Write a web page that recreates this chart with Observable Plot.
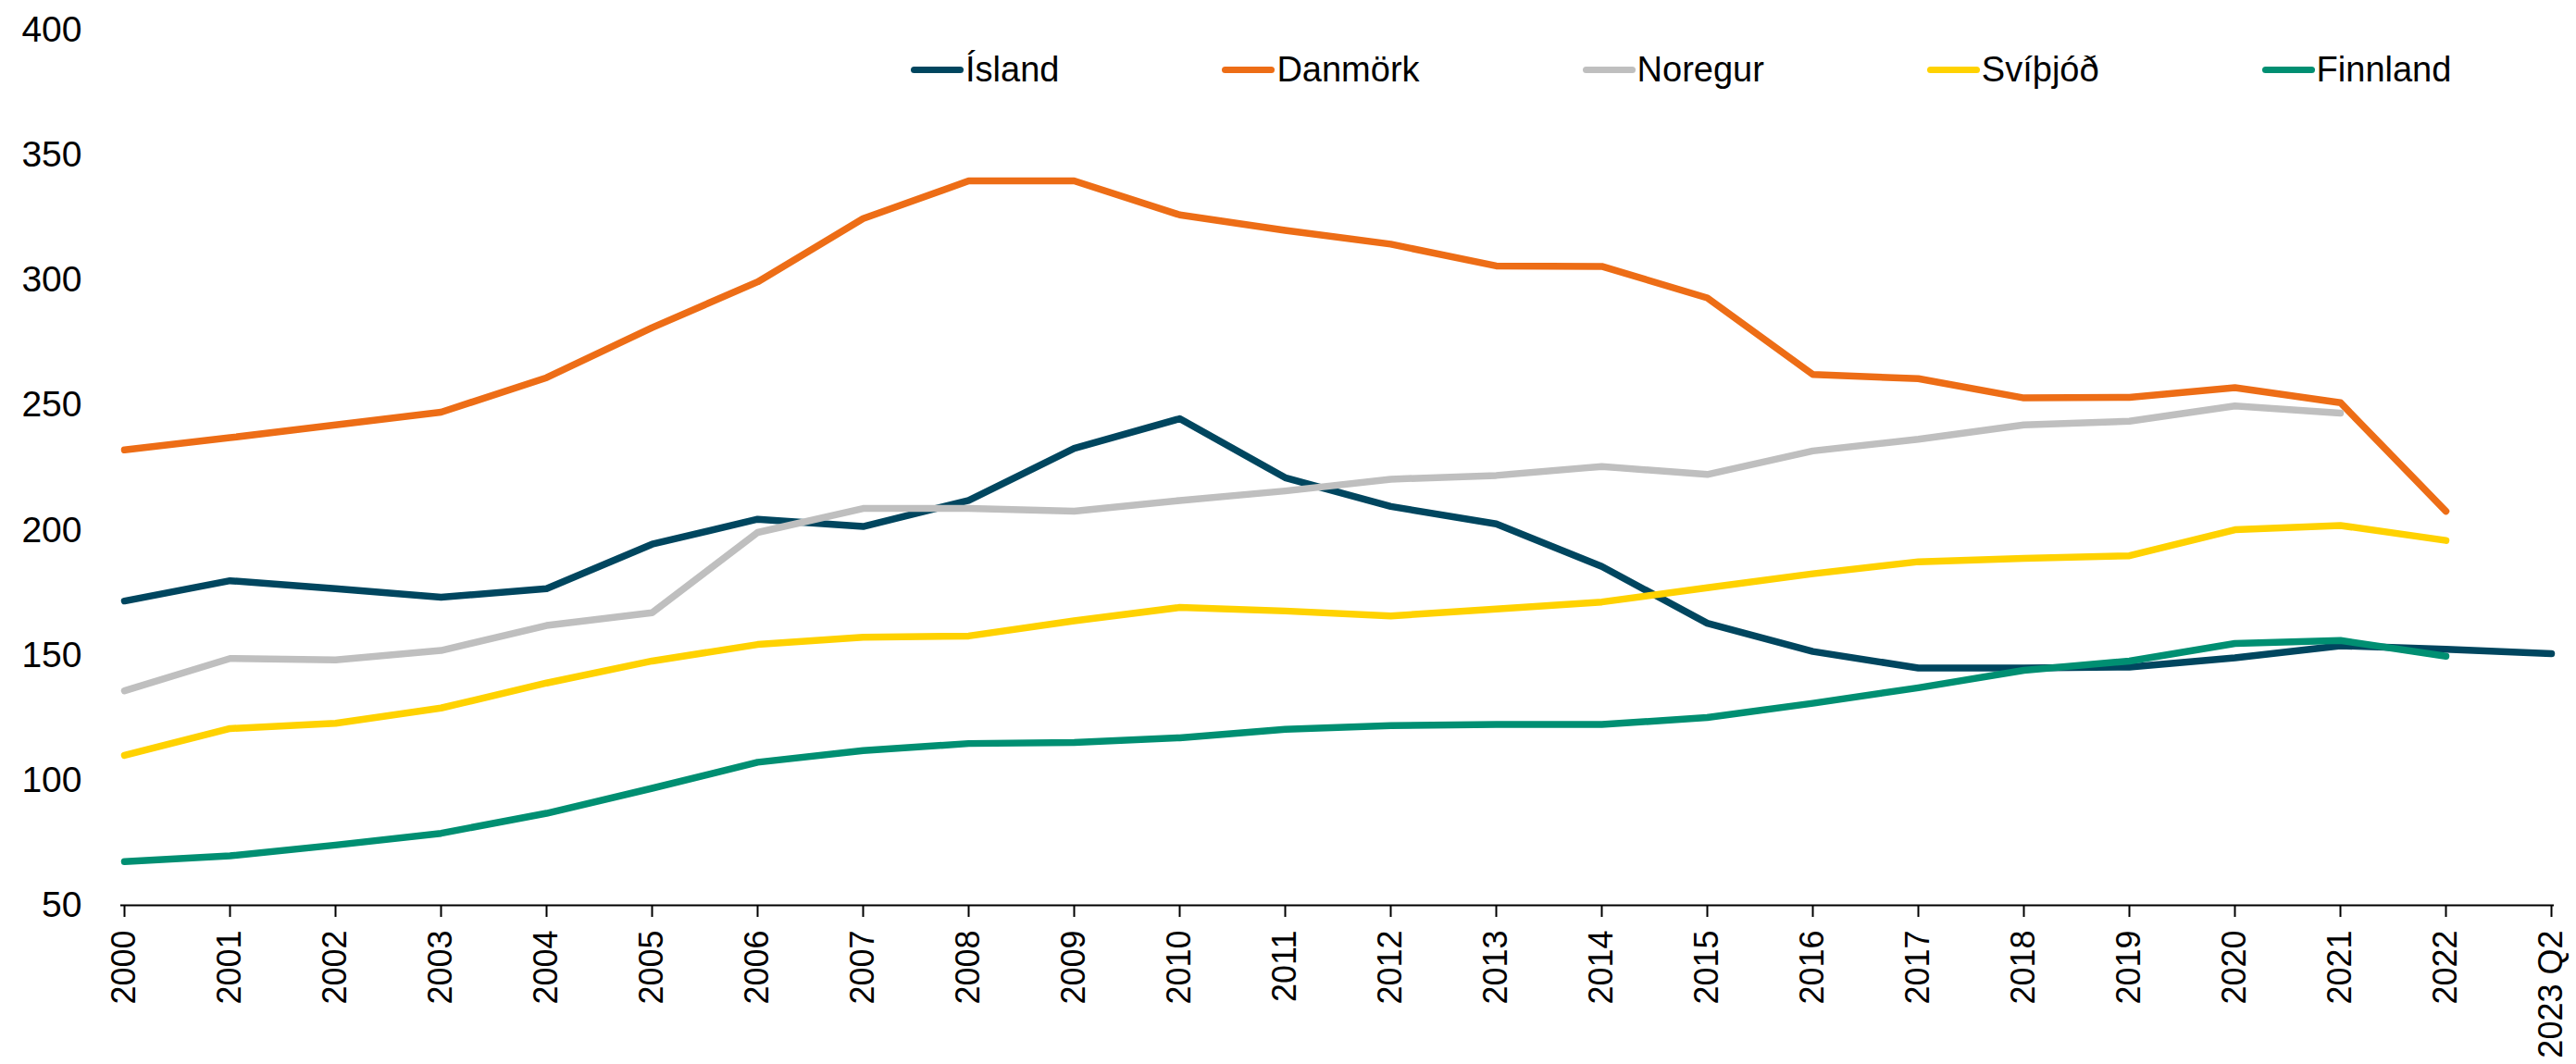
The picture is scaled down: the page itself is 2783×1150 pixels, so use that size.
<!DOCTYPE html>
<html>
<head>
<meta charset="utf-8">
<script src="https://cdn.jsdelivr.net/npm/d3@7"></script>
<script src="https://cdn.jsdelivr.net/npm/@observablehq/plot@0.6"></script>
<style>
  html, body { margin: 0; padding: 0; background: white; }
  #wrap { position: relative; width: 2783px; height: 1150px; overflow: hidden; }
  #legend { position: absolute; left: 984px; top: 52px; display: flex; align-items: center; gap: 176px;
            font-family: "Liberation Sans", Arial, sans-serif; font-size: 38px; line-height: 46px; color: #000; }
  .item { display: flex; align-items: center; }
  .sw { width: 57px; height: 7px; border-radius: 4px; margin-right: 2px; }
</style>
</head>
<body>
<div id="wrap"><div id="legend"></div></div>
<script>
const years = ["2000","2001","2002","2003","2004","2005","2006","2007","2008","2009","2010","2011",
  "2012","2013","2014","2015","2016","2017","2018","2019","2020","2021","2022","2023 Q2"];
const seriesNames = ["Ísland","Danmörk","Noregur","Svíþjóð","Finnland"];
const seriesColors = ["#00465F","#ED6D16","#BFBFBF","#FFD200","#008F72"];
const island = [171.7,179.8,176.6,173.2,176.6,194.4,204.4,201.5,211.9,232.7,244.6,
  221.0,209.5,202.5,185.5,162.8,151.5,144.9,144.9,145.3,149.0,153.8,152.4,150.6];
const danmork = [232.1,237.0,242.1,247.2,261.0,281.0,299.3,324.6,339.7,339.7,326.1,
  319.9,314.4,305.7,305.5,292.9,262.3,260.6,252.9,253.1,257.0,251.0,207.6,null];
const noregur = [135.8,148.7,148.1,151.9,161.9,167.0,199.1,208.7,208.7,207.6,211.9,
  215.7,220.4,221.9,225.5,222.3,231.7,236.4,242.1,243.6,249.7,246.8,null,null];
const svithjod = [110.0,120.7,122.8,128.9,138.9,147.7,154.3,157.2,157.7,163.8,169.1,
  167.7,165.7,168.5,171.3,177.0,182.6,187.4,188.7,189.8,200.2,201.9,195.9,null];
const finnland = [67.5,69.8,74.1,78.8,86.8,96.8,107.2,111.9,114.7,115.1,117.0,
  120.4,121.9,122.3,122.3,125.1,130.8,137.0,144.0,147.7,154.7,155.9,149.6,null];
const yTicks = [50,100,150,200,250,300,350,400];

const allSeries = [island, danmork, noregur, svithjod, finnland];
const rows = [];
allSeries.forEach((vals, si) => {
  vals.forEach((v, i) => rows.push({series: seriesNames[si], year: years[i], value: v}));
});

const plot = Plot.plot({
  width: 2783,
  height: 1150,
  marginLeft: 130,
  marginRight: 24,
  marginTop: 32,
  marginBottom: 172,
  style: {fontFamily: "'Liberation Sans', Arial, sans-serif", fontSize: "38px", background: "white", color: "black"},
  x: {type: "point", domain: years, padding: 0},
  y: {domain: [50, 400]},
  color: {domain: seriesNames, range: seriesColors},
  marks: [
    Plot.axisY({ticks: yTicks, tickSize: 0, tickPadding: 42, label: null, fontSize: 39}),
    Plot.axisX({tickRotate: -90, tickSize: 13, tickPadding: 14, strokeWidth: 2, label: null, fontSize: 36}),
    Plot.ruleY([50], {stroke: "black", strokeWidth: 2}),
    Plot.line(rows, {x: "year", y: "value", z: "series", stroke: "series",
      strokeWidth: 7.5, strokeLinecap: "round", strokeLinejoin: "round"})
  ]
});
document.getElementById("wrap").prepend(plot);

const legend = document.getElementById("legend");
seriesNames.forEach((name, i) => {
  const it = document.createElement("div");
  it.className = "item";
  const sw = document.createElement("span");
  sw.className = "sw";
  sw.style.background = seriesColors[i];
  const tx = document.createElement("span");
  tx.textContent = name;
  it.appendChild(sw); it.appendChild(tx);
  legend.appendChild(it);
});
</script>
</body>
</html>
